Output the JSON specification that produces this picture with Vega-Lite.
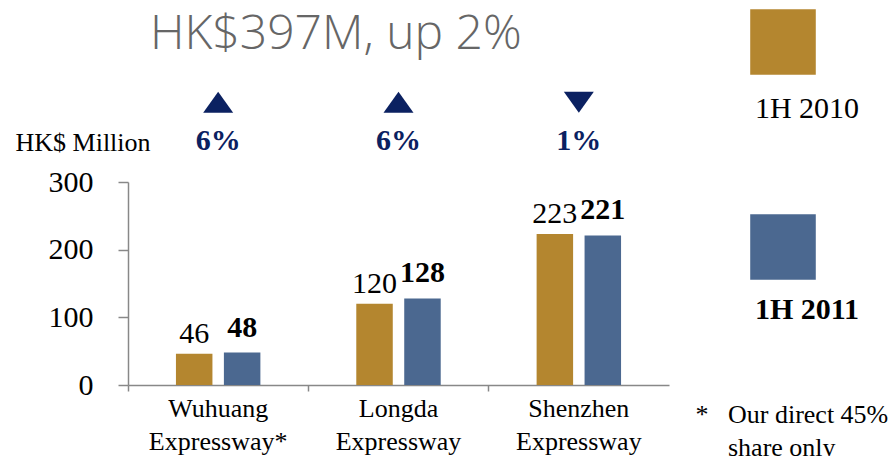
{
  "$schema": "https://vega.github.io/schema/vega-lite/v6.json",
  "width": 541,
  "height": 203,
  "autosize": {"type": "none"},
  "padding": {"left": 128, "top": 182, "right": 225, "bottom": 71},
  "background": "white",
  "title": {
    "text": "HK$397M, up 2%",
    "anchor": "start",
    "frame": "group",
    "dx": 22,
    "offset": 0,
    "dy": 88,
    "baseline": "alphabetic",
    "font": "Open Sans",
    "fontSize": 48,
    "fontWeight": 300,
    "color": "#666666"
  },
  "config": {
    "view": {"stroke": null},
    "font": "Liberation Serif"
  },
  "datasets": {
    "rev": [
      {"road": "Wuhuang Expressway*", "period": "1H 2010", "value": 46},
      {"road": "Wuhuang Expressway*", "period": "1H 2011", "value": 48},
      {"road": "Longda Expressway", "period": "1H 2010", "value": 120},
      {"road": "Longda Expressway", "period": "1H 2011", "value": 128},
      {"road": "Shenzhen Expressway", "period": "1H 2010", "value": 223},
      {"road": "Shenzhen Expressway", "period": "1H 2011", "value": 221}
    ],
    "chg": [
      {"road": "Wuhuang Expressway*", "change": "6%", "dir": "up"},
      {"road": "Longda Expressway", "change": "6%", "dir": "up"},
      {"road": "Shenzhen Expressway", "change": "1%", "dir": "down"}
    ]
  },
  "layer": [
    {
      "data": {"name": "rev"},
      "mark": {"type": "bar"},
      "encoding": {
        "x": {
          "field": "road",
          "type": "nominal",
          "sort": null,
          "scale": {"paddingInner": 0, "paddingOuter": 0},
          "axis": {
            "title": ["*\u00a0\u00a0\u00a0Our direct 45%", "\u200b\u00a0\u00a0\u00a0\u00a0\u00a0share only"],
            "titleAlign": "left",
            "titleAnchor": "start",
            "titleX": 567,
            "titleY": 37,
            "titleBaseline": "alphabetic",
            "titleFont": "Liberation Serif",
            "titleFontSize": 26,
            "titleFontWeight": "normal",
            "titleLineHeight": 33,
            "titleColor": "black",
            "labelAngle": 0,
            "labelExpr": "split(datum.label, ' ')",
            "labelFont": "Liberation Serif",
            "labelFontSize": 26,
            "labelLineHeight": 33,
            "labelColor": "black",
            "labelPadding": 4,
            "tickSize": 6,
            "bandPosition": 0,
            "domainColor": "#888888",
            "domainWidth": 1.5,
            "tickColor": "#888888",
            "tickWidth": 1.5
          }
        },
        "xOffset": {
          "field": "period",
          "type": "nominal",
          "scale": {"paddingInner": 0.239, "paddingOuter": 1.087}
        },
        "y": {
          "field": "value",
          "type": "quantitative",
          "scale": {"domain": [0, 300]},
          "axis": {
            "values": [0, 100, 200, 300],
            "grid": false,
            "title": "HK$ Million",
            "titleAngle": 0,
            "titleAlign": "left",
            "titleBaseline": "alphabetic",
            "titleX": -113,
            "titleY": -32,
            "titleFont": "Liberation Serif",
            "titleFontSize": 26,
            "titleFontWeight": "normal",
            "titleColor": "black",
            "labelFont": "Liberation Serif",
            "labelFontSize": 30,
            "labelColor": "black",
            "labelPadding": 25,
            "tickSize": 10,
            "domainColor": "#888888",
            "domainWidth": 1.5,
            "tickColor": "#888888",
            "tickWidth": 1.5
          }
        },
        "color": {
          "field": "period",
          "type": "nominal",
          "scale": {"domain": ["1H 2010", "1H 2011"], "range": ["#B4862F", "#4B6890"]},
          "legend": {
            "orient": "none",
            "direction": "vertical",
            "legendX": 622,
            "legendY": -173,
            "title": null,
            "symbolType": "square",
            "symbolSize": 4300,
            "symbolStrokeWidth": 0,
            "symbolOpacity": 1,
            "rowPadding": 90,
            "labelFont": "Liberation Serif",
            "labelFontSize": 30,
            "labelColor": "black",
            "labelAlign": "center",
            "labelBaseline": "alphabetic",
            "labelOffset": -9,
            "labelLimit": 300,
            "encode": {
              "labels": {
                "update": {
                  "dy": {"signal": "datum.label == '1H 2011' ? 72 : 76"},
                  "fontWeight": {"signal": "datum.label == '1H 2011' ? 'bold' : 'normal'"}
                }
              }
            }
          }
        }
      }
    },
    {
      "data": {"name": "rev"},
      "transform": [{"filter": "datum.period == '1H 2010'"}],
      "mark": {"type": "text", "font": "Liberation Serif", "fontSize": 30, "baseline": "alphabetic", "dy": -11, "color": "black"},
      "encoding": {
        "x": {"field": "road", "type": "nominal", "sort": null},
        "xOffset": {"field": "period", "type": "nominal"},
        "y": {"field": "value", "type": "quantitative"},
        "text": {"field": "value", "type": "quantitative"}
      }
    },
    {
      "data": {"name": "rev"},
      "transform": [{"filter": "datum.period == '1H 2011'"}],
      "mark": {"type": "text", "font": "Liberation Serif", "fontSize": 30, "fontWeight": "bold", "baseline": "alphabetic", "dy": -16, "color": "black"},
      "encoding": {
        "x": {"field": "road", "type": "nominal", "sort": null},
        "xOffset": {"field": "period", "type": "nominal"},
        "y": {"field": "value", "type": "quantitative"},
        "text": {"field": "value", "type": "quantitative"}
      }
    },
    {
      "data": {"name": "chg"},
      "mark": {"type": "point", "filled": true, "size": 900, "opacity": 1, "color": "#0B2161", "strokeWidth": 0},
      "encoding": {
        "x": {"field": "road", "type": "nominal", "sort": null},
        "y": {"datum": 418},
        "shape": {
          "field": "dir",
          "type": "nominal",
          "scale": {"domain": ["up", "down"], "range": ["M-1,0.7L1,0.7L0,-0.7Z", "M-1,-0.7L1,-0.7L0,0.7Z"]},
          "legend": null
        }
      }
    },
    {
      "data": {"name": "chg"},
      "mark": {"type": "text", "font": "Liberation Serif", "fontSize": 30, "fontWeight": "bold", "baseline": "alphabetic", "color": "#0B2161"},
      "encoding": {
        "x": {"field": "road", "type": "nominal", "sort": null},
        "y": {"datum": 347},
        "text": {"field": "change"}
      }
    }
  ]
}
